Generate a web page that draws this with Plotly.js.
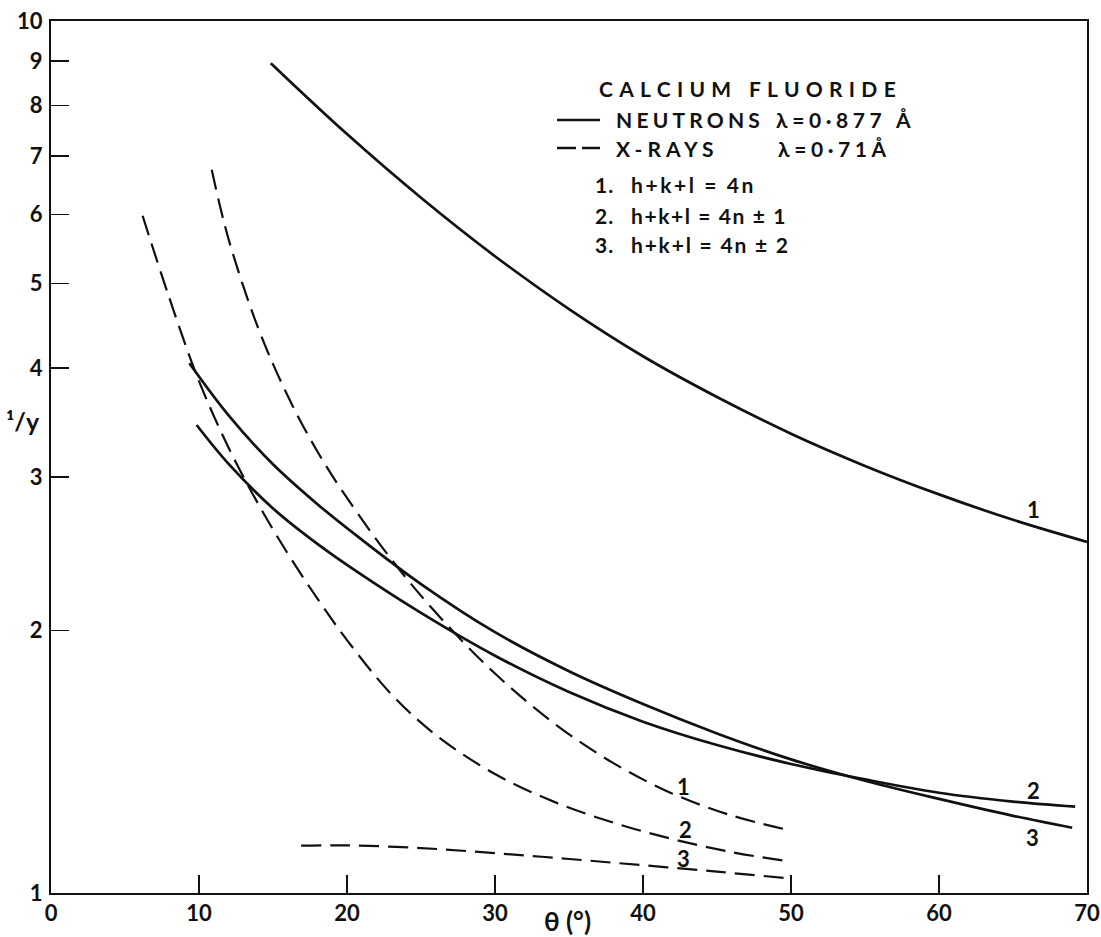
<!DOCTYPE html>
<html>
<head>
<meta charset="utf-8">
<script src="https://cdn.plot.ly/plotly-3.0.1.min.js"></script>
<style>
  html, body { margin: 0; padding: 0; background: #fff; }
  #chart { width: 1101px; height: 937px; }
</style>
</head>
<body>
<div id="chart"></div>
<script>
// ---- Data ----
// Neutrons, lambda = 0.877 A (solid)
const neutron1Theta = [14.85, 20, 25, 30, 35, 40, 45, 50, 55, 60, 65, 70];
const neutron1InvY  = [8.945, 7.418, 6.27, 5.373, 4.673, 4.126, 3.705, 3.363, 3.089, 2.865, 2.679, 2.527];

const neutron2Theta = [9.84, 12, 15, 18, 21, 25, 30, 35, 40, 45, 50, 55, 60, 65, 69.2];
const neutron2InvY  = [3.441, 3.105, 2.761, 2.514, 2.316, 2.095, 1.871, 1.70, 1.572, 1.478, 1.406, 1.350, 1.303, 1.273, 1.256];

const neutron3Theta = [9.35, 12, 15, 18, 21, 25, 30, 35, 40, 45, 50, 55, 60, 65, 69];
const neutron3InvY  = [4.051, 3.53, 3.102, 2.792, 2.542, 2.261, 1.991, 1.796, 1.647, 1.524, 1.423, 1.345, 1.282, 1.226, 1.188];

// X-rays, lambda = 0.71 A (dashed)
const xray1Theta = [10.86, 12, 14, 16, 18, 20, 23, 26, 30, 34, 38, 42, 46, 50];
const xray1InvY  = [6.75, 5.62, 4.445, 3.714, 3.209, 2.838, 2.413, 2.097, 1.785, 1.565, 1.409, 1.300, 1.227, 1.179];

const xray2Theta = [6.19, 8, 10, 12, 14, 16, 18, 20, 23, 26, 30, 34, 38, 42, 46, 50];
const xray2InvY  = [5.98, 4.81, 3.864, 3.241, 2.794, 2.45, 2.176, 1.95, 1.69, 1.518, 1.369, 1.272, 1.204, 1.153, 1.114, 1.086];

const xray3Theta = [16.9, 20, 25, 30, 35, 40, 45, 49.9];
const xray3InvY  = [1.133, 1.134, 1.126, 1.111, 1.094, 1.076, 1.058, 1.039];

// Tick labels
const xTickVals = [0, 10, 20, 30, 40, 50, 60, 70];
const xTickText = ['0', '10', '20', '30', '40', '50', '60', '70'];
const yTickVals = [1, 2, 3, 4, 5, 6, 7, 8, 9, 10];
const yTickText = ['1', '2', '3', '4', '5', '6', '7', '8', '9', '10'];

// ---- Styling ----
const INK = '#111111';
const FONT = 'Lato, "DejaVu Sans", sans-serif';
const W = 1101, H = 937;
const M = { l: 51, r: 14, t: 21, b: 44 };
const PW = W - M.l - M.r, PH = H - M.t - M.b;

function paperPos(px, py) {
  return { x: (px - M.l) / PW, y: (H - M.b - py) / PH, xref: 'paper', yref: 'paper' };
}

const solid = { color: INK, width: 2.7, shape: 'spline', smoothing: 1 };
const dashed = { color: INK, width: 2.2, shape: 'spline', smoothing: 1, dash: '20px,9px' };

const traces = [
  { x: neutron1Theta, y: neutron1InvY, mode: 'lines', line: solid, name: 'Neutrons 1' },
  { x: neutron2Theta, y: neutron2InvY, mode: 'lines', line: solid, name: 'Neutrons 2' },
  { x: neutron3Theta, y: neutron3InvY, mode: 'lines', line: solid, name: 'Neutrons 3' },
  { x: xray1Theta, y: xray1InvY, mode: 'lines', line: dashed, name: 'X-rays 1' },
  { x: xray2Theta, y: xray2InvY, mode: 'lines', line: dashed, name: 'X-rays 2' },
  { x: xray3Theta, y: xray3InvY, mode: 'lines', line: dashed, name: 'X-rays 3' }
];

function label(text, px, py, opts) {
  opts = opts || {};
  const anchor = opts.xanchor || 'center';
  return Object.assign(paperPos(px, py), {
    text: text,
    showarrow: false,
    xanchor: anchor,
    align: anchor === 'left' ? 'left' : 'center',
    yanchor: 'middle',
    font: { family: FONT, size: opts.size || 22, color: INK, weight: 700 }
  });
}

const annSpec = [
  // legend block
  [label('CALCIUM FLUORIDE', 597, 88, { xanchor: 'left', size: 21 }), 6.3],
  [label('NEUTRONS', 614, 119, { xanchor: 'left', size: 21 }), 4.2],
  [label('λ=0·877 Å', 774, 119, { xanchor: 'left', size: 21 }), 4.6],
  [label('X-RAYS', 614, 148, { xanchor: 'left', size: 21 }), 5.0],
  [label('λ=0·71Å', 776, 148, { xanchor: 'left', size: 21 }), 4.6],
  [label('1.', 593, 185, { xanchor: 'left', size: 21 }), 1],
  [label('h+k+l = 4n', 629, 185, { xanchor: 'left', size: 21 }), 2.6],
  [label('2.', 593, 215, { xanchor: 'left', size: 21 }), 1],
  [label('h+k+l = 4n ± 1', 629, 215, { xanchor: 'left', size: 21 }), 1.6],
  [label('3.', 593, 244, { xanchor: 'left', size: 21 }), 1],
  [label('h+k+l = 4n ± 2', 629, 244, { xanchor: 'left', size: 21 }), 1.8],
  // curve labels
  [label('1', 1033, 509), 0],
  [label('2', 1033, 790), 0],
  [label('3', 1032, 837), 0],
  [label('1', 683, 786), 0],
  [label('2', 685, 829), 0],
  [label('3', 684, 858), 0],
  // axis titles
  [label('¹/y', 23, 421, { size: 25 }), 0],
  [label('θ (°)', 567, 921, { size: 26 }), 0]
];

const annotations = annSpec.map(a => a[0]);
const spacing = annSpec.map(a => a[1]);

function seg(x0, y0, x1, y1, dash) {
  const a = paperPos(x0, y0), b = paperPos(x1, y1);
  return { type: 'line', xref: 'paper', yref: 'paper', x0: a.x, y0: a.y, x1: b.x, y1: b.y,
           line: { color: INK, width: 2.4, dash: dash || 'solid' } };
}

const layout = {
  width: W, height: H,
  margin: { l: M.l, r: M.r, t: M.t, b: M.b, pad: 0 },
  paper_bgcolor: '#ffffff', plot_bgcolor: '#ffffff',
  showlegend: false,
  xaxis: {
    range: [0, 70], tickmode: 'array', tickvals: xTickVals, ticktext: xTickText,
    ticks: 'inside', ticklen: 18, tickwidth: 1.6, tickcolor: INK,
    showline: true, linewidth: 2, linecolor: INK, mirror: true,
    showgrid: false, zeroline: false,
    tickfont: { family: FONT, size: 22, color: INK, weight: 700 }
  },
  yaxis: {
    type: 'log', range: [0, 1], tickmode: 'array', tickvals: yTickVals, ticktext: yTickText,
    ticks: 'inside', ticklen: 18, tickwidth: 1.6, tickcolor: INK,
    showline: true, linewidth: 2, linecolor: INK, mirror: true,
    showgrid: false, zeroline: false, ticklabelstandoff: 2,
    tickfont: { family: FONT, size: 22, color: INK, weight: 700 }
  },
  annotations: annotations,
  shapes: [
    seg(557, 120, 600, 120, 'solid'),
    seg(557, 148, 600, 148, '19px,6px')
  ]
};

Plotly.newPlot('chart', traces, layout, { staticPlot: true, displayModeBar: false }).then(function (gd) {
  gd.querySelectorAll('.annotation').forEach(function (g) {
    const idx = parseInt(g.getAttribute('data-index'), 10);
    const t = g.querySelector('.annotation-text');
    if (t && spacing[idx]) t.style.letterSpacing = spacing[idx] + 'px';
  });
});
</script>
</body>
</html>
